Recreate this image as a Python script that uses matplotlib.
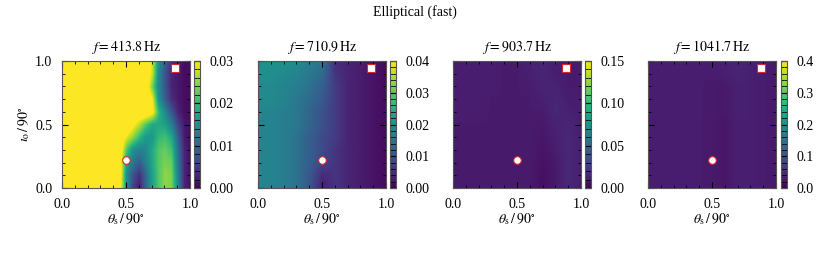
import numpy as np
import matplotlib
matplotlib.use("Agg")
import matplotlib.pyplot as plt
from matplotlib.ticker import AutoMinorLocator, MultipleLocator

plt.rcParams['font.family'] = ['Liberation Serif', 'DejaVu Serif']
plt.rcParams['mathtext.fontset'] = 'stix'
plt.rcParams['font.size'] = 10

title = "Elliptical (fast)"
freqs = [413.8, 710.9, 903.7, 1041.7]
vmaxes = [0.03, 0.04, 0.15, 0.4]
cbar_steps = [0.01, 0.01, 0.05, 0.1]
cbar_fmt = ["%.2f", "%.2f", "%.2f", "%.1f"]

# marker positions (theta_s/90, iota_o/90)
circle_pos = (0.5, 0.22)
square_pos = (0.88, 0.945)

# panel 1: rows iota 0..1 step 0.1, cols theta 0..1 step 0.05 (units of 1e-3)
amp1 = [
    [35, 35, 35, 35, 35, 35, 35, 35, 35, 32, 16, 6, 2, 10, 17, 22, 25, 24, 14, 3, 1],
    [35, 35, 35, 35, 35, 35, 35, 35, 35, 33, 15, 8, 4, 10, 17, 22, 25, 24, 13, 3, 1],
    [35, 35, 35, 35, 35, 35, 35, 35, 35, 33, 17, 12, 9, 13, 18, 22, 24, 23, 12, 3, 1],
    [35, 35, 35, 35, 35, 35, 35, 35, 35, 34, 22, 15, 13, 14, 18, 22, 23, 21, 11, 3, 1],
    [35, 35, 35, 35, 35, 35, 35, 35, 35, 35, 29, 25, 20, 16, 16, 20, 21, 18, 9, 2, 1],
    [35, 35, 35, 35, 35, 35, 35, 35, 35, 35, 35, 31, 27, 22, 18, 18, 17, 13, 6, 2, 1],
    [35, 35, 35, 35, 35, 35, 35, 35, 35, 35, 35, 35, 35, 35, 32, 20, 14, 8, 3, 1, 1],
    [35, 35, 35, 35, 35, 35, 35, 35, 35, 35, 35, 35, 35, 35, 30, 15, 9, 4, 2, 1, 1],
    [35, 35, 35, 35, 35, 35, 35, 35, 35, 35, 35, 35, 35, 35, 24, 14, 8, 3, 2, 1, 1],
    [35, 35, 35, 35, 35, 35, 35, 35, 35, 35, 35, 35, 35, 35, 28, 14, 8, 3, 2, 1, 1],
    [35, 35, 35, 35, 35, 35, 35, 35, 35, 35, 35, 35, 35, 35, 28, 15, 9, 4, 2, 1, 1],
]
# panels 2-4: rows iota 0..1 step 0.1, cols theta 0..1 step 0.1 (units of 1e-3)
amp2 = [
    [18, 18, 17, 15, 11, 3, 6, 4, 3, 2, 1],
    [18, 18, 17, 15, 11, 5, 6, 4, 3, 2, 1],
    [18, 18, 17, 15, 12, 8, 6, 4, 3, 2, 1],
    [18, 18, 17, 15, 12, 9, 6, 4, 3, 2, 1],
    [18, 18, 17, 15, 12, 9, 7, 4, 3, 2, 1],
    [18, 18, 17, 16, 13, 10, 7, 4, 3, 2, 1],
    [18, 18, 17, 16, 13, 10, 7, 4, 3, 2, 1],
    [19, 19, 18, 16, 14, 11, 7, 4, 3, 2, 1],
    [19, 19, 18, 17, 15, 12, 7, 4, 3, 2, 1],
    [20, 20, 19, 18, 16, 14, 6, 4, 3, 2, 1],
    [20, 20, 20, 19, 17, 15, 5, 4, 3, 2, 1],
]
amp3 = [
    [11, 11, 11, 11, 11, 11, 11, 6, 10, 17, 12],
    [11, 11, 11, 11, 11, 11, 11, 6, 10, 17, 12],
    [11, 11, 11, 11, 11, 11, 11, 7, 10, 17, 12],
    [11, 11, 11, 11, 11, 11, 11, 8, 12, 17, 12],
    [11, 11, 11, 11, 11, 11, 11, 9, 13, 17, 12],
    [11, 11, 11, 11, 11, 11, 11, 10, 14, 16, 12],
    [12, 12, 12, 11, 11, 11, 11, 11, 16, 14, 11],
    [12, 12, 12, 11, 11, 11, 11, 13, 16, 12, 11],
    [12, 12, 12, 12, 11, 11, 12, 15, 14, 11, 11],
    [12, 12, 12, 12, 11, 11, 13, 16, 12, 11, 11],
    [12, 12, 12, 12, 11, 11, 14, 16, 11, 11, 11],
]
amp4 = [
    [30, 32, 30, 31, 30, 28, 24, 34, 34, 30, 28],
    [30, 32, 30, 31, 30, 28, 24, 34, 34, 30, 28],
    [30, 32, 30, 31, 30, 28, 24, 34, 34, 30, 28],
    [30, 32, 30, 31, 30, 28, 24, 34, 34, 30, 28],
    [30, 32, 30, 31, 30, 28, 24, 34, 34, 30, 28],
    [30, 32, 30, 31, 30, 28, 24, 34, 34, 30, 28],
    [30, 32, 31, 31, 30, 29, 27, 36, 34, 30, 28],
    [30, 32, 31, 31, 30, 29, 27, 36, 34, 30, 28],
    [30, 32, 31, 31, 30, 29, 27, 36, 34, 30, 28],
    [30, 33, 32, 31, 30, 30, 34, 40, 34, 30, 28],
    [30, 33, 32, 31, 30, 30, 34, 40, 34, 30, 28],
]
amps = [amp1, amp2, amp3, amp4]

W, H = 830, 256
fig = plt.figure(figsize=(W / 100, H / 100), dpi=100)
fig.text(415 / W, 1 - 12 / H, title, ha='center', va='center', fontsize=10)

ax_x = [62, 258, 453, 648]
cb_x = [194, 390, 585, 781]
y0, y1 = 61, 188

for i in range(4):
    ax = fig.add_axes([ax_x[i] / W, (H - y1) / H, 128 / W, (y1 - y0) / H])
    data = np.array(amps[i]) * 1e-3
    ny, nx = data.shape
    dx = 1 / (nx - 1) / 2
    dy = 1 / (ny - 1) / 2
    im = ax.imshow(data, origin='lower', cmap='viridis', vmin=0, vmax=vmaxes[i],
                   extent=[-dx, 1 + dx, -dy, 1 + dy], aspect='auto',
                   interpolation='bilinear')
    ax.set_xlim(0, 1)
    ax.set_ylim(0, 1)
    ax.plot(*circle_pos, 'o', ms=5.5, mfc='white', mec='#d62728', mew=0.8)
    ax.plot(*square_pos, 's', ms=5.5, mfc='white', mec='#d62728', mew=0.8)
    ax.xaxis.set_major_locator(MultipleLocator(0.5))
    ax.yaxis.set_major_locator(MultipleLocator(0.5))
    ax.xaxis.set_minor_locator(MultipleLocator(0.1))
    ax.yaxis.set_minor_locator(MultipleLocator(0.1))
    ax.tick_params(which='both', direction='in', top=True, right=True)
    ax.tick_params(which='major', length=4, width=0.8, pad=7)
    ax.tick_params(which='minor', length=2.5, width=0.6)
    ax.xaxis.set_major_formatter(plt.FormatStrFormatter('%.1f'))
    ax.yaxis.set_major_formatter(plt.FormatStrFormatter('%.1f'))
    ax.set_xlabel(r'$\theta_{\rm s}\,/\,90^{\circ}$', labelpad=0)
    if i == 0:
        ax.set_ylabel(r'$\iota_{\rm o}\,/\,90^{\circ}$', labelpad=2)
    else:
        ax.set_yticklabels([])
    ax.set_title(r'$f = %.1f\,\mathrm{Hz}$' % freqs[i], fontsize=10, pad=7)
    for s in ax.spines.values():
        s.set_color('#555555')

    cax = fig.add_axes([cb_x[i] / W, (H - y1) / H, 6 / W, (y1 - y0) / H])
    cb = fig.colorbar(im, cax=cax)
    cb.set_ticks(np.arange(0, vmaxes[i] + 1e-9, cbar_steps[i]))
    cb.ax.yaxis.set_major_formatter(plt.FormatStrFormatter(cbar_fmt[i]))
    cb.ax.yaxis.set_minor_locator(AutoMinorLocator(5))
    cb.ax.tick_params(which='both', direction='in', left=True, right=True)
    cb.ax.tick_params(which='major', length=4, width=0.8, pad=7)
    cb.ax.tick_params(which='minor', length=2.5, width=0.6)
    cb.outline.set_edgecolor('#555555')

fig.savefig('out.png', dpi=100)
